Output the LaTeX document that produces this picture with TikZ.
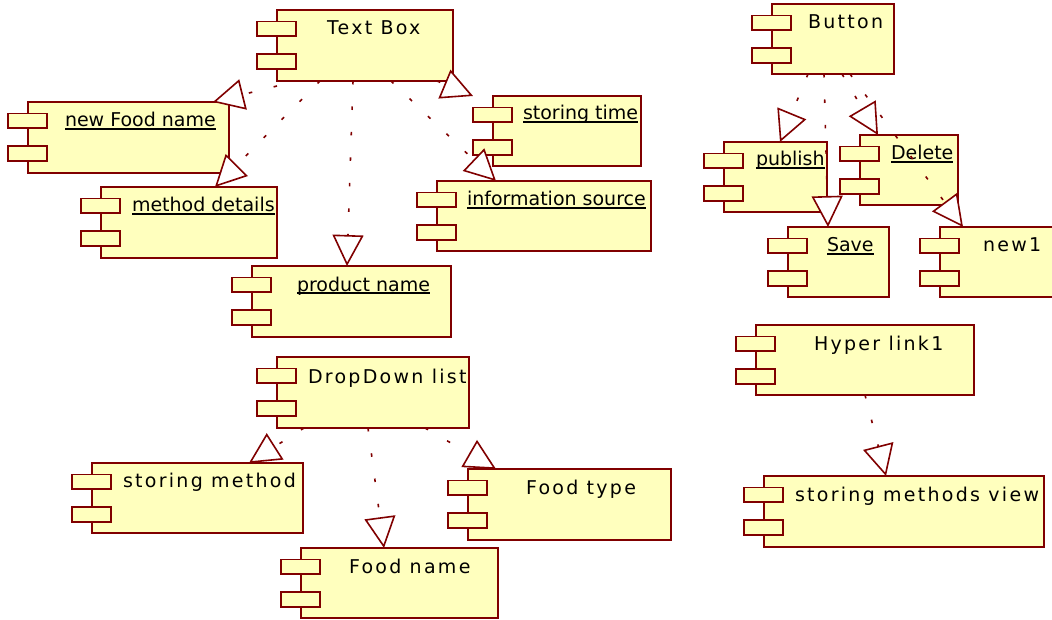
\documentclass[tikz,border=0pt]{standalone}
\usepackage{fontspec}
\newfontfamily\lsfont[LetterSpace=12]{DejaVu Sans}
\newfontfamily\ulfont{DejaVu Sans}
\usetikzlibrary{arrows.meta}
\definecolor{umlred}{RGB}{128,0,0}
\definecolor{umlfill}{RGB}{255,255,190}
\tikzset{
  mainbox/.style={draw=umlred, fill=umlfill, line width=1.7pt, rectangle, inner sep=0pt, outer sep=0pt},
  portbox/.style={draw=umlred, fill=umlfill, line width=1.7pt},
  lbl/.style={anchor=base west, inner sep=0pt, outer sep=0pt, text=black, font={\lsfont\fontsize{19pt}{22pt}\selectfont}},
  ulbl/.style={anchor=base west, inner sep=0pt, outer sep=0pt, text=black, font={\ulfont\fontsize{19pt}{22pt}\selectfont}},
  uline/.style={draw=black, line width=1.3pt},
  real/.style={draw=umlred, line width=1.6pt, dash pattern=on 3.5pt off 22pt,
    -{Triangle[length=31pt, width=31pt, fill=white, line join=miter]}},
}
\newcommand\compbox[5]{%
  \node[mainbox, minimum width={(#4-#2)*1pt}, minimum height={(#5-#3)*1pt}] (#1) at ({(#2+#4)/2},{(#3+#5)/2}) {};
  \draw[portbox] ({#2-20},{#3+11.5}) rectangle ({#2+19},{#3+26});
  \draw[portbox] ({#2-20},{#3+44}) rectangle ({#2+19},{#3+59});
}
\newcommand\ulabel[4]{%
  \node[ulbl] (#1) at (#2,#3) {#4};
  \draw[uline] ([yshift=-2pt]#1.base west) -- ([yshift=-2pt]#1.base east);
}
\begin{document}
\begin{tikzpicture}[x=1pt,y=-1pt]
\useasboundingbox (0,0) rectangle (1052,620);
\clip (0,0) rectangle (1052,620);
% boxes
\compbox{textbox}{277}{10}{453}{81}
\compbox{newfood}{28}{102}{229}{173}
\compbox{methoddet}{101}{187}{277}{258}
\compbox{prodname}{252}{266}{451}{337}
\compbox{storetime}{493}{96}{641}{166}
\compbox{infosrc}{437}{181}{651}{251}
\compbox{button}{772}{4}{894}{74}
\compbox{publish}{724}{142}{827}{212}
\compbox{delete}{860}{135}{958}{205}
\compbox{save}{788}{227}{889}{297}
\compbox{new1}{940}{227}{1070}{297}
\compbox{hyper}{756}{325}{974}{395}
\compbox{smv}{764}{476}{1044}{547}
\compbox{dropdown}{277}{357}{469}{428}
\compbox{stormeth}{92}{463}{303}{533}
\compbox{foodtype}{468}{469}{671}{540}
\compbox{foodname}{301}{548}{498}{618}
% labels
\node[lbl] (t-textbox) at (327,35) {Text Box};
\ulabel{t-newfood}{65}{127}{new Food name}
\ulabel{t-methoddet}{132}{212}{method details}
\ulabel{t-prodname}{297}{291}{product name}
\ulabel{t-storetime}{523}{120}{storing time}
\ulabel{t-infosrc}{467}{206}{information source}
\node[lbl] (t-button) at (808,29) {Button};
\ulabel{t-publish}{756}{166}{publish}
\ulabel{t-delete}{891}{160}{Delete}
\ulabel{t-save}{827}{252}{Save}
\node[lbl] (t-new1) at (983,252) {new1};
\node[lbl] (t-hyper) at (814,350) {Hyper link1};
\node[lbl] (t-smv) at (795,501) {storing methods view};
\node[lbl] (t-dropdown) at (308,383) {DropDown list};
\node[lbl] (t-stormeth) at (123,487) {storing method};
\node[lbl] (t-foodtype) at (526,494) {Food type};
\node[lbl] (t-foodname) at (349,573) {Food name};
% connectors
\draw[real] ([yshift=-5pt]textbox.south west) -- ([xshift=-16pt]newfood.north east);
\draw[real] ([xshift=43pt]textbox.south west) -- ([xshift=114pt]methoddet.north west);
\draw[real] ([xshift=-12pt]textbox.south) -- ([xshift=-4.5pt]prodname.north);
\draw[real] ([xshift=-16pt]textbox.south east) -- ([xshift=-20pt]storetime.north west);
\draw[real] ([xshift=26pt]textbox.south) -- ([xshift=59pt]infosrc.north west);
\draw[real] ([xshift=-25pt]button.south) -- ([xshift=4.5pt]publish.north);
\draw[real] ([xshift=-9pt]button.south) -- ([xshift=-10.5pt]save.north);
\draw[real] ([xshift=9pt]button.south) -- ([xshift=18pt]delete.north west);
\draw[real] ([xshift=17pt]button.south) -- ([xshift=23pt]new1.north west);
\draw[real] (hyper.south) -- ([xshift=-18pt]smv.north);
\draw[real] ([xshift=27pt]dropdown.south west) -- ([xshift=157pt]stormeth.north west);
\draw[real] ([xshift=-5pt]dropdown.south) -- ([xshift=-15.5pt]foodname.north);
\draw[real] ([xshift=52pt]dropdown.south) -- ([xshift=28pt]foodtype.north west);
\end{tikzpicture}
\end{document}
